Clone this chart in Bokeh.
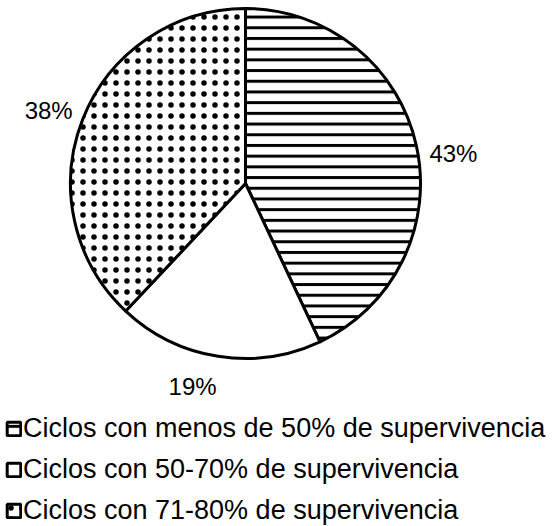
import math
from bokeh.plotting import figure
from bokeh.models import Range1d, Legend, LegendItem, ColumnDataSource
from bokeh.core.properties import value
from bokeh.embed import file_html
from bokeh.resources import INLINE

# ---- data ----
categories = [
    "Ciclos con menos de 50% de supervivencia",
    "Ciclos con 50-70% de supervivencia",
    "Ciclos con 71-80% de supervivencia",
]
percentages = [43, 19, 38]
pct_labels = ["43%", "19%", "38%"]

# ---- layout / style ----
W, H = 553, 526
CX, CY, R = 245, H - 183, 175
FONT = "Liberation Sans"
label_dist = 1.2 * R
label_shift_deg = [-4.5, -5.6, 1.2]

p = figure(width=W, height=H, output_backend="svg", toolbar_location=None,
           x_range=Range1d(0, W), y_range=Range1d(0, H), min_border=0)
p.axis.visible = False
p.grid.visible = False
p.outline_line_color = None
p.background_fill_color = "white"
p.border_fill_color = "white"

total = float(sum(percentages))
cum = 0.0
renderers = []
styles = [
    dict(hatch_pattern="horizontal_line", hatch_scale=10.7, hatch_weight=3.0),
    dict(),
    dict(hatch_pattern="dot", hatch_scale=11, hatch_weight=0.1),
]
label_x, label_y = [], []
for i, v in enumerate(percentages):
    start = math.pi / 2 - 2 * math.pi * cum / total
    end = math.pi / 2 - 2 * math.pi * (cum + v) / total
    mid = (start + end) / 2 + math.radians(label_shift_deg[i])
    label_x.append(CX + label_dist * math.cos(mid))
    label_y.append(CY + label_dist * math.sin(mid))
    cum += v
    r = p.wedge(x=CX, y=CY, radius=R, start_angle=start, end_angle=end,
                direction="clock", fill_color="white", line_color="black",
                line_width=3, hatch_color="black", **styles[i])
    renderers.append(r)

src = ColumnDataSource(dict(x=label_x, y=label_y, t=pct_labels))
p.text(x="x", y="y", text="t", source=src, text_align="center", text_baseline="middle",
       text_font=value(FONT), text_font_size="24px", text_color="black")

legend = Legend(items=[LegendItem(label=categories[i], renderers=[renderers[i]]) for i in range(3)],
                location=(5, 0), orientation="vertical",
                glyph_width=17, glyph_height=17, label_standoff=1, spacing=10,
                padding=0, margin=0, border_line_color=None, background_fill_alpha=0,
                label_text_font=FONT, label_text_font_size="27px", label_text_color="black")
p.add_layout(legend)

open("out.html", "w").write(file_html(p, INLINE))
